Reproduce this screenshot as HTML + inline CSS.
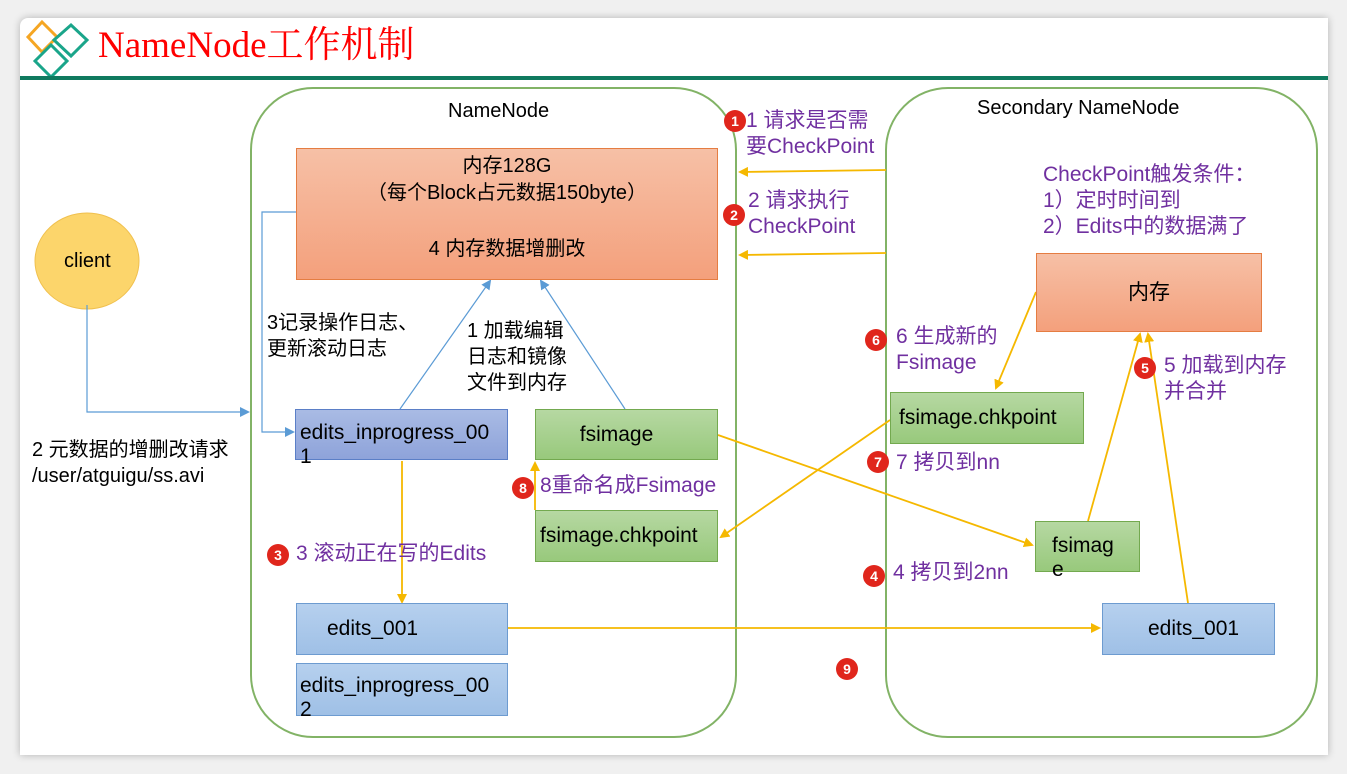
<!DOCTYPE html>
<html><head><meta charset="utf-8"><style>
body{margin:0;width:1347px;height:774px;background:#f0f0f0;position:relative;overflow:hidden;font-family:"Liberation Sans","Noto Sans CJK SC",sans-serif;}
.card{position:absolute;left:20px;top:18px;width:1308px;height:737px;background:#fff;box-shadow:0 0 8px rgba(0,0,0,.25);border-radius:8px 0 0 0;}
.t{position:absolute;white-space:nowrap;font-size:20px;color:#000;line-height:26px;}
.p{color:#7030a0;font-size:21px;}
.b{position:absolute;box-sizing:border-box;font-size:21px;white-space:nowrap;}
.org{background:linear-gradient(#f6c0a6,#f4a07c);border:1px solid #e57d42;}
.grn{background:linear-gradient(#b6d8a2,#98c97c);border:1px solid #73a94f;}
.blu{background:linear-gradient(#a9bbe4,#8ea3da);border:1px solid #5b7fc7;}
.lb{background:linear-gradient(#b6d0ee,#9fc0e6);border:1px solid #6d9bd0;}
.n{position:absolute;width:22px;height:22px;border-radius:50%;background:#e0261c;color:#fff;font-size:14px;font-weight:bold;text-align:center;line-height:22px;}
</style></head><body>
<div class="card"></div>
<svg width="1347" height="774" style="position:absolute;left:0;top:0">
<defs>
<marker id="y" markerWidth="10" markerHeight="10" refX="8" refY="5" orient="auto" markerUnits="userSpaceOnUse"><path d="M0,0L10,5L0,10z" fill="#f5b800"/></marker>
<marker id="bl" markerWidth="10" markerHeight="10" refX="8" refY="5" orient="auto" markerUnits="userSpaceOnUse"><path d="M0,0L10,5L0,10z" fill="#5b9bd5"/></marker>
</defs>
<path d="M28,37L42,22L57,37L42,52z" fill="none" stroke="#f5a623" stroke-width="3"/>
<path d="M54,40L71,25L87,40L71,56z" fill="none" stroke="#1aa58a" stroke-width="3"/>
<path d="M35,61L51,45L67,61L51,77z" fill="none" stroke="#1aa58a" stroke-width="3"/>
<rect x="20" y="76" width="1308" height="4" fill="#0f7a5f"/>
<rect x="251" y="88" width="485" height="649" rx="62" fill="none" stroke="#82b366" stroke-width="2"/>
<rect x="886" y="88" width="431" height="649" rx="62" fill="none" stroke="#82b366" stroke-width="2"/>
<ellipse cx="87" cy="261" rx="52" ry="48" fill="#fcd56b" stroke="#f0c04e"/>
<g stroke="#5b9bd5" stroke-width="1.2" fill="none">
<path d="M87,305V412H248" marker-end="url(#bl)"/>
<path d="M296,212H262V432H293" marker-end="url(#bl)"/>
<path d="M400,409L490,281" marker-end="url(#bl)"/>
<path d="M625,409L541,281" marker-end="url(#bl)"/>
</g>
<g stroke="#f5b800" stroke-width="1.8" fill="none">
<path d="M886,170L740,172" marker-end="url(#y)"/>
<path d="M886,253L740,255" marker-end="url(#y)"/>
<path d="M402,461V602" marker-end="url(#y)"/>
<path d="M535,510V463" marker-end="url(#y)"/>
<path d="M718,435L1032,545" marker-end="url(#y)"/>
<path d="M508,628H1099" marker-end="url(#y)"/>
<path d="M1036,292L996,388" marker-end="url(#y)"/>
<path d="M890,420L721,537" marker-end="url(#y)"/>
<path d="M1088,521L1140,334" marker-end="url(#y)"/>
<path d="M1188,603L1148,334" marker-end="url(#y)"/>
</g>
</svg>
<div class="t" style="left:98px;top:24px;font-family:'Liberation Serif','Noto Serif CJK SC',serif;font-size:37px;line-height:44px;color:#f00">NameNode工作机制</div>
<div class="t" style="left:448px;top:98px">NameNode</div>
<div class="t" style="left:977px;top:95px">Secondary NameNode</div>
<div class="t" style="left:64px;top:248px">client</div>
<div class="b org" style="left:296px;top:148px;width:422px;height:132px;text-align:center;line-height:27px;padding-top:4px;font-size:20px">内存128G<br>（每个Block占元数据150byte）<br><div style="margin-top:29px">4 内存数据增删改</div></div>
<div class="b blu" style="left:295px;top:409px;width:213px;height:51px;padding:11px 4px;line-height:24px">edits_inprogress_00<br>1</div>
<div class="b grn" style="left:535px;top:409px;width:183px;height:51px;text-align:center;line-height:49px;padding-right:20px">fsimage</div>
<div class="b grn" style="left:535px;top:510px;width:183px;height:52px;line-height:50px;padding-left:4px">fsimage.chkpoint</div>
<div class="b lb" style="left:296px;top:603px;width:212px;height:52px;line-height:50px;padding-left:30px">edits_001</div>
<div class="b lb" style="left:296px;top:663px;width:212px;height:53px;padding:10px 3px;line-height:24px">edits_inprogress_00<br>2</div>
<div class="b org" style="left:1036px;top:253px;width:226px;height:79px;text-align:center;line-height:77px">内存</div>
<div class="b grn" style="left:890px;top:392px;width:194px;height:52px;line-height:50px;padding-left:8px">fsimage.chkpoint</div>
<div class="b grn" style="left:1035px;top:521px;width:105px;height:51px;padding:12px 0 0 16px;line-height:24px">fsimag<br>e</div>
<div class="b lb" style="left:1102px;top:603px;width:173px;height:52px;line-height:50px;padding-left:45px">edits_001</div>
<div class="t" style="left:267px;top:310px">3记录操作日志、<br>更新滚动日志</div>
<div class="t" style="left:467px;top:318px">1 加载编辑<br>日志和镜像<br>文件到内存</div>
<div class="t" style="left:32px;top:437px">2 元数据的增删改请求<br>/user/atguigu/ss.avi</div>
<div class="t p" style="left:746px;top:108px">1 请求是否需<br>要CheckPoint</div>
<div class="t p" style="left:748px;top:188px">2 请求执行<br>CheckPoint</div>
<div class="t p" style="left:1043px;top:162px">CheckPoint触发条件：<br>1）定时时间到<br>2）Edits中的数据满了</div>
<div class="t p" style="left:896px;top:324px">6 生成新的<br>Fsimage</div>
<div class="t p" style="left:1164px;top:353px">5 加载到内存<br>并合并</div>
<div class="t p" style="left:896px;top:450px">7 拷贝到nn</div>
<div class="t p" style="left:540px;top:473px">8重命名成Fsimage</div>
<div class="t p" style="left:296px;top:541px">3 滚动正在写的Edits</div>
<div class="t p" style="left:893px;top:560px">4 拷贝到2nn</div>
<div class="n" style="left:724px;top:110px">1</div>
<div class="n" style="left:723px;top:204px">2</div>
<div class="n" style="left:267px;top:544px">3</div>
<div class="n" style="left:863px;top:565px">4</div>
<div class="n" style="left:1134px;top:357px">5</div>
<div class="n" style="left:865px;top:329px">6</div>
<div class="n" style="left:867px;top:451px">7</div>
<div class="n" style="left:512px;top:477px">8</div>
<div class="n" style="left:836px;top:658px">9</div>
</body></html>
